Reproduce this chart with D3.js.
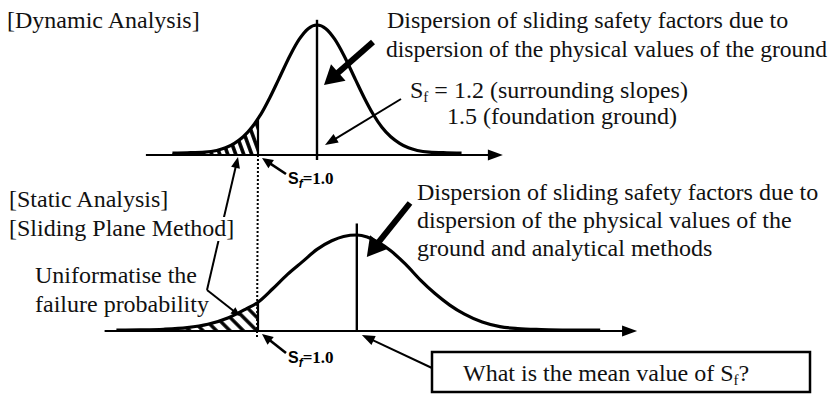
<!DOCTYPE html>
<html><head><meta charset="utf-8">
<script src="https://cdn.jsdelivr.net/npm/d3@7"></script>
<style>html,body{margin:0;padding:0;background:#fff;} svg{display:block;}</style>
</head><body>
<svg id="c" width="834" height="394"></svg>
<script>
// ---- data ----
const topSf = [0.71,0.76,0.82,0.86,0.89,0.92,0.95,0.98,1.00,1.01,1.04,1.07,1.11,1.14,1.17,1.20,1.23,1.26,1.29,1.33,1.36,1.39,1.42,1.45,1.48,1.51,1.54,1.58,1.64,1.69];
const topDensity = [0.015,0.017,0.022,0.035,0.055,0.09,0.14,0.215,0.28,0.315,0.441,0.582,0.772,0.891,0.972,1,0.972,0.891,0.772,0.582,0.441,0.315,0.213,0.14,0.09,0.055,0.035,0.022,0.017,0.015];
const botSf = [0.52,0.60,0.68,0.76,0.83,0.90,0.96,1.00,1.05,1.10,1.15,1.20,1.25,1.29,1.335,1.37,1.41,1.45,1.50,1.55,1.60,1.65,1.70,1.76,1.82,1.88,1.96,2.05,2.16];
const botDensity = [0.01,0.012,0.018,0.035,0.07,0.138,0.231,0.30,0.44,0.59,0.72,0.85,0.94,0.985,1,0.98,0.92,0.835,0.696,0.533,0.39,0.27,0.175,0.093,0.045,0.025,0.015,0.01,0.01];
const topAxisExtent = [0.62, 1.83];
const botAxisExtent = [0.48, 2.285];
const topMean = 1.2, botMean = 1.335, sfLimit = 1.0;

// ---- scales ----
const x = d3.scaleLinear().domain([1.0, 2.0]).range([258, 553]);
const yTop = d3.scaleLinear().domain([0, 1]).range([155, 25]);
const yBot = d3.scaleLinear().domain([0, 1]).range([331, 235]);

const svg = d3.select('#c');
const SERIF = "'Liberation Serif','Times New Roman',serif";

const defs = svg.append('defs');
function hatch(id, angle, gap, sw) {
  const p = defs.append('pattern').attr('id', id).attr('patternUnits', 'userSpaceOnUse')
    .attr('width', gap).attr('height', gap).attr('patternTransform', `rotate(${angle})`);
  p.append('line').attr('x1', gap/2).attr('x2', gap/2).attr('y1', -2).attr('y2', gap+2)
    .attr('stroke', '#000').attr('stroke-width', sw);
}
hatch('hTop', -20, 7.5, 3.6);
hatch('hBot', -45, 9.5, 3.4);

function arrow(g, x1, y1, x2, y2, w, hl, hw) {
  const a = Math.atan2(y2 - y1, x2 - x1);
  const bx = x2 - hl * Math.cos(a), by = y2 - hl * Math.sin(a);
  g.append('line').attr('x1', x1).attr('y1', y1).attr('x2', bx + Math.cos(a)).attr('y2', by + Math.sin(a))
    .attr('stroke', '#000').attr('stroke-width', w);
  const s = Math.sin(a), c = Math.cos(a);
  g.append('polygon').attr('points', [[x2, y2], [bx + hw/2*s, by - hw/2*c], [bx - hw/2*s, by + hw/2*c]].map(p => p.join(',')).join(' '))
    .attr('fill', '#000');
}

function panel(sf, dens, ys, ext, mean, hatchId, meanTop) {
  const pts = sf.map((v, i) => [v, dens[i]]);
  const g = svg.append('g');
  // hatched failure region
  const tail = pts.filter(p => p[0] <= sfLimit);
  g.append('path').datum(tail)
    .attr('d', d3.area().x(p => x(p[0])).y0(ys(0)).y1(p => ys(p[1])).curve(d3.curveMonotoneX))
    .attr('fill', `url(#${hatchId})`);
  // axis
  arrow(g, x(ext[0]), ys(0), x(ext[1]), ys(0), 2.2, 15, 11);
  // mean line
  g.append('line').attr('x1', x(mean)).attr('x2', x(mean)).attr('y1', ys(meanTop)).attr('y2', ys(0) + (hatchId === 'hTop' ? 5 : 0))
    .attr('stroke', '#000').attr('stroke-width', 2.4);
  // curve
  g.append('path').datum(pts)
    .attr('d', d3.line().x(p => x(p[0])).y(p => ys(p[1])).curve(d3.curveMonotoneX))
    .attr('fill', 'none').attr('stroke', '#000').attr('stroke-width', 3.2);
  // limit line at Sf = 1.0
  g.append('line').attr('x1', x(sfLimit)).attr('x2', x(sfLimit)).attr('y1', ys(tail[tail.length-1][1])).attr('y2', ys(0))
    .attr('stroke', '#000').attr('stroke-width', 2.2);
  return g;
}
panel(topSf, topDensity, yTop, topAxisExtent, topMean, 'hTop', 1.04);
panel(botSf, botDensity, yBot, botAxisExtent, botMean, 'hBot', 1.12);

// dotted connector
svg.append('line').attr('x1', x(sfLimit)).attr('x2', x(sfLimit) - 1).attr('y1', yTop(0)).attr('y2', yBot(0) + 6)
  .attr('stroke', '#000').attr('stroke-width', 2).attr('stroke-dasharray', '2,2');

// annotations
const ann = svg.append('g');
arrow(ann, 373, 42, x(topMean) + 7, 85, 6, 19, 22);
arrow(ann, 410, 203, x(botMean) + 10, 257, 6, 19, 22);
arrow(ann, 401, 99, x(topMean) + 8, yTop(0) - 10, 2, 13, 10);
arrow(ann, 286, 174, x(sfLimit) + 4, yTop(0) + 3, 2.6, 11, 10);
arrow(ann, 286, 353, x(sfLimit) + 4, yBot(0) + 3, 2.6, 11, 10);
arrow(ann, 432, 368, x(botMean) + 5, yBot(0) + 4, 2, 13, 10);
arrow(ann, 207, 290, 238, 157, 2, 11, 9);
arrow(ann, 207, 290, 240, 316, 2, 9, 8);

function sfLabel(tx, ty) {
  const t = ann.append('text').attr('x', tx).attr('y', ty).attr('font-weight', 'bold');
  t.append('tspan').attr('font-family', "'Liberation Sans',Arial,sans-serif").attr('font-size', 16).text('S');
  t.append('tspan').attr('font-family', "'Liberation Sans',Arial,sans-serif").attr('font-style', 'italic').attr('font-size', 12).attr('dy', 4).text('f');
  t.append('tspan').attr('font-family', SERIF).attr('font-size', 17).attr('dy', -4).text('=1.0');
}
sfLabel(288, 184);
sfLabel(288, 363);

function txt(tx, ty, s, bg, fs) {
  const t = ann.append('text').attr('x', tx).attr('y', ty).attr('font-family', SERIF).attr('font-size', fs || 24).attr('fill', '#111');
  const parts = s.split('{f}');
  parts.forEach((p, i) => {
    if (i > 0) {
      t.append('tspan').attr('font-size', 15).attr('dy', 4).text('f');
      t.append('tspan').attr('dy', -4).text(p);
    } else t.append('tspan').text(p);
  });
  if (bg) {
    const b = t.node().getBBox();
    ann.insert('rect', () => t.node()).attr('x', b.x).attr('y', b.y + 2).attr('width', b.width).attr('height', b.height - 2).attr('fill', '#fff');
  }
  return t;
}
txt(7, 28, '[Dynamic Analysis]');
txt(387, 28, 'Dispersion of sliding safety factors due to');
txt(386, 57, 'dispersion of the physical values of the ground', false, 23.6);
txt(410, 98, 'S{f} = 1.2 (surrounding slopes)');
txt(447, 124, '1.5 (foundation ground)');
txt(9, 207, '[Static Analysis]');
txt(9, 236, '[Sliding Plane Method]', true);
txt(35, 283, 'Uniformatise the');
txt(35, 312, 'failure probability');
txt(417, 200, 'Dispersion of sliding safety factors due to');
txt(417, 228, 'dispersion of the physical values of the');
txt(417, 256, 'ground and analytical methods');

ann.append('rect').attr('x', 432).attr('y', 352).attr('width', 378).attr('height', 40)
  .attr('fill', '#fff').attr('stroke', '#000').attr('stroke-width', 2.5);
txt(463, 381, 'What is the mean value of S{f}?');
</script>
</body></html>
